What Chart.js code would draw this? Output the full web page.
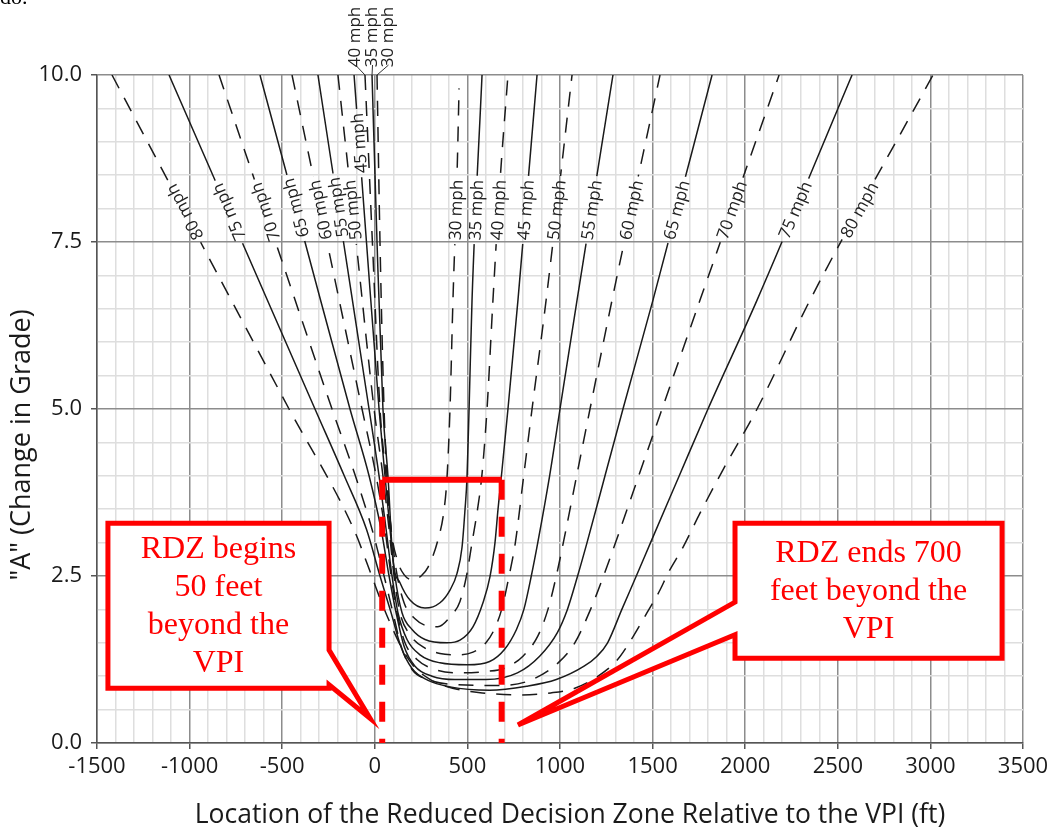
<!DOCTYPE html>
<html>
<head>
<meta charset="utf-8">
<script src="https://cdn.jsdelivr.net/npm/chart.js@4.4.1/dist/chart.umd.min.js"></script>
<style>
  html, body { margin: 0; padding: 0; background: #fff; }
  #wrap { position: relative; width: 1055px; height: 829px; }
</style>
</head>
<body>
<div id="wrap"><canvas id="chart" width="1055" height="829"></canvas></div>
<script>
// speeds, one U-shaped curve each: [location ft, A]
const speeds = [30, 35, 40, 45, 50, 55, 60, 65, 70, 75, 80];

const mph30 = [[12,10],[28,7.5],[50,5],[66,4],[88,3.2],[120,2.75],[158,2.52],[206,2.44],[250,2.5],[287,2.63],[341,3.04],[374,3.49],[390,3.98],[406,5],[422,6.63],[444,8.5],[455,9.8]];
const mph35 = [[-15,10],[12,7.5],[44,5],[71,4],[98,2.74],[136,2.4],[190,2.14],[271,2.02],[352,2.1],[406,2.29],[444,2.54],[471,2.93],[487,3.49],[498,3.98],[509,5],[525,6.63],[579,10]];
const mph40 = [[-53,10],[-13,7.5],[28,5],[61,4],[88,3.2],[115,2.6],[158,2.1],[217,1.86],[287,1.75],[340,1.74],[410,1.9],[460,2.12],[495,2.5],[525,3.0],[552,3.45],[578,4.0],[606,5],[638,6.63],[676,8.4],[719,10]];
const mph45 = [[-112,10],[-45,7.5],[23,5],[55,4],[82,3.2],[109,2.5],[147,1.95],[201,1.7],[271,1.55],[390,1.5],[460,1.54],[530,1.74],[584,2.1],[622,2.49],[649,3.0],[665,3.49],[687,4.09],[719,5],[773,6.63],[876,10]];
const mph50 = [[-199,10],[-101,7.5],[-4,5],[44,4],[77,3.2],[104,2.5],[136,1.95],[190,1.62],[271,1.42],[352,1.34],[450,1.32],[530,1.36],[600,1.5],[645,1.7],[685,2.0],[725,2.5],[759,3.0],[804,4],[849,5],[925,6.63],[1065,10]];
const mph55 = [[-307,10],[-169,7.5],[-31,5],[23,4],[61,3.2],[93,2.5],[125,1.95],[174,1.55],[244,1.32],[352,1.2],[500,1.17],[620,1.22],[700,1.4],[765,1.7],[805,2.0],[845,2.5],[880,3.0],[944,4],[1000,5],[1092,6.63],[1286,10]];
const mph60 = [[-447,10],[-258,7.5],[-69,5],[7,4],[55,3.2],[88,2.5],[120,1.95],[163,1.5],[228,1.25],[325,1.1],[480,1.05],[600,1.07],[700,1.12],[800,1.3],[880,1.6],[935,2.0],[980,2.5],[1018,3.0],[1090,4],[1162,5],[1281,6.63],[1540,10]];
const mph65 = [[-620,10],[-377,7.5],[-134,5],[-31,4],[34,3.2],[77,2.5],[115,1.95],[158,1.45],[217,1.15],[309,1.0],[433,0.95],[600,0.95],[770,1.05],[890,1.3],[985,1.65],[1040,2.0],[1095,2.5],[1146,3.0],[1243,4],[1340,5],[1502,6.63],[1821,10]];
const mph70 = [[-841,10],[-536,7.5],[-231,5],[-105,4],[-15,3.2],[50,2.5],[98,1.95],[142,1.45],[201,1.1],[287,0.95],[406,0.88],[680,0.86],[850,0.95],[990,1.2],[1080,1.5],[1165,2.0],[1235,2.5],[1300,3.0],[1425,4],[1551,5],[1756,6.63],[2183,10]];
const mph75 = [[-1111,10],[-717,7.5],[-323,5],[-165,4],[-45,3.2],[28,2.5],[88,1.95],[140,1.45],[200,1.12],[285,0.94],[406,0.84],[620,0.79],[820,0.85],[980,0.95],[1130,1.15],[1200,1.3],[1257,1.5],[1334,2.0],[1412,2.5],[1489,3.0],[1644,4],[1799,5],[2064,6.63],[2577,10]];
const mph80 = [[-1419,10],[-941,7.5],[-463,5],[-112,3.19],[-30,2.6],[30,2.15],[90,1.75],[150,1.4],[210,1.15],[300,0.95],[420,0.82],[580,0.75],[780,0.72],[950,0.75],[1080,0.82],[1200,0.99],[1308,1.24],[1394,1.59],[1470,1.95],[1540,2.29],[1583,2.54],[1664,2.93],[1756,3.44],[1880,4.09],[2064,5],[2350,6.63],[3014,10]];

const curves = [mph30, mph35, mph40, mph45, mph50, mph55, mph60, mph65, mph70, mph75, mph80];

// reduced decision zone marks
const rdzStart = 40;
const rdzEnd = 685;
const rdzTopA = 3.94;

// where the speed labels sit: [speed, A]
const leftLabels = [[45, 8.98], [50, 7.98], [55, 8.02], [60, 7.98], [65, 8.01], [70, 7.95], [75, 7.95], [80, 7.95]];
const rightLabels = speeds.map(s => [s, 7.98]);
const topLabels = [[40, -11], [35, -1], [30, 10]];  // px shift of label from the line top

const leftCallout = {
  x0: -1441, x1: -247, a0: 3.29, a1: 0.82, tipX: -26, tipA: 0.37, baseA: [1.39, 0.87], side: 'right',
  text: ['RDZ begins', '50 feet', 'beyond the', 'VPI']
};
const rightCallout = {
  x0: 1945, x1: 3387, a0: 3.29, a1: 1.27, tipX: 773, tipA: 0.27, baseA: [2.11, 1.62], side: 'left',
  text: ['RDZ ends 700', 'feet beyond the', 'VPI']
};

const LABEL_FONT = '17px "Open Sans"';

function findOnBranch(data, a, side) {
  let mi = 0;
  data.forEach((p, i) => { if (p[1] < data[mi][1]) mi = i; });
  const seg = side === 'left' ? data.slice(0, mi + 1) : data.slice(mi);
  for (let i = 0; i < seg.length - 1; i++) {
    const p = seg[i], q = seg[i + 1];
    if ((p[1] - a) * (q[1] - a) <= 0 && p[1] !== q[1]) {
      const t = (a - p[1]) / (q[1] - p[1]);
      return { x: p[0] + t * (q[0] - p[0]), lo: p[1] < q[1] ? p : q, hi: p[1] < q[1] ? q : p };
    }
  }
  return null;
}

function labelBoxes(chart) {
  const xs = chart.scales.x, ys = chart.scales.y, ctx = chart.ctx;
  ctx.save();
  ctx.font = LABEL_FONT;
  const out = [];
  const add = (list, side) => list.forEach(([s, a]) => {
    const d = curves[speeds.indexOf(s)];
    const f = findOnBranch(d, a, side);
    if (!f) return;
    const dx = xs.getPixelForValue(f.hi[0]) - xs.getPixelForValue(f.lo[0]);
    const dy = ys.getPixelForValue(f.hi[1]) - ys.getPixelForValue(f.lo[1]);
    const text = s + ' mph';
    out.push({
      cx: xs.getPixelForValue(f.x), cy: ys.getPixelForValue(a),
      ang: Math.atan2(dy, dx), text: text, w: ctx.measureText(text).width + 8, h: 14
    });
  });
  add(leftLabels, 'left');
  add(rightLabels, 'right');
  ctx.restore();
  return out;
}

const labelPlugin = {
  id: 'speedLabels',
  beforeDatasetsDraw(chart) {
    const ctx = chart.ctx;
    chart.$boxes = labelBoxes(chart);
    ctx.save();
    ctx.beginPath();
    ctx.rect(0, 0, chart.width, chart.height);
    chart.$boxes.forEach(b => {
      const c = Math.cos(b.ang), s = Math.sin(b.ang);
      const pts = [[-b.w / 2, -b.h / 2], [b.w / 2, -b.h / 2], [b.w / 2, b.h / 2], [-b.w / 2, b.h / 2]]
        .map(([u, v]) => [b.cx + u * c - v * s, b.cy + u * s + v * c]);
      ctx.moveTo(pts[0][0], pts[0][1]);
      pts.slice(1).forEach(p => ctx.lineTo(p[0], p[1]));
      ctx.closePath();
    });
    ctx.clip('evenodd');
  },
  afterDatasetsDraw(chart) {
    chart.ctx.restore();
  },
  afterDraw(chart) {
    const ctx = chart.ctx, xs = chart.scales.x, ys = chart.scales.y, area = chart.chartArea;
    ctx.save();
    ctx.font = LABEL_FONT;
    ctx.fillStyle = '#222';
    ctx.textAlign = 'center';
    ctx.textBaseline = 'middle';
    (chart.$boxes || []).forEach(b => {
      ctx.save();
      ctx.translate(b.cx, b.cy);
      ctx.rotate(b.ang);
      ctx.fillText(b.text, 0, 1);
      ctx.restore();
    });
    // labels above the plot for the slowest left branches
    ctx.strokeStyle = '#333';
    ctx.lineWidth = 1;
    topLabels.forEach(([s, off]) => {
      const d = curves[speeds.indexOf(s)];
      const lx = xs.getPixelForValue(d[0][0]);
      const ly = ys.getPixelForValue(d[0][1]);
      const tx = lx + off, ty = area.top - 38;
      ctx.save();
      ctx.translate(tx, ty);
      ctx.rotate(-Math.PI / 2);
      ctx.fillText(s + ' mph', 0, 1);
      ctx.restore();
      ctx.beginPath();
      ctx.moveTo(tx + 1.5, area.top - 10);
      ctx.lineTo(lx, ly);
      ctx.stroke();
    });
    ctx.restore();

    drawCallout(chart, leftCallout);
    drawCallout(chart, rightCallout);

    // axis titles
    ctx.save();
    ctx.fillStyle = '#1a1a1a';
    ctx.textAlign = 'center';
    ctx.textBaseline = 'middle';
    ctx.font = '26.5px "Open Sans"';
    ctx.fillText('Location of the Reduced Decision Zone Relative to the VPI (ft)', (area.left + area.right) / 2 + 10, area.bottom + 72);
    ctx.translate(22, (area.top + area.bottom) / 2 + 36);
    ctx.rotate(-Math.PI / 2);
    ctx.font = '27px "Open Sans"';
    ctx.fillText('"A" (Change in Grade)', 0, 0);
    ctx.restore();

    // remnant of the surrounding page text
    ctx.save();
    ctx.fillStyle = '#000';
    ctx.font = '22px "Liberation Serif"';
    ctx.textBaseline = 'alphabetic';
    ctx.fillText('do.', 0, 4);
    ctx.restore();
  }
};

function drawCallout(chart, c) {
  const ctx = chart.ctx, xs = chart.scales.x, ys = chart.scales.y;
  const X = v => xs.getPixelForValue(v), Y = v => ys.getPixelForValue(v);
  const x0 = X(c.x0), x1 = X(c.x1), y0 = Y(c.a0), y1 = Y(c.a1);
  const tip = [X(c.tipX), Y(c.tipA)];
  const b0 = Y(c.baseA[0]), b1 = Y(c.baseA[1]);
  let pts;
  if (c.side === 'right') {
    pts = [[x0, y0], [x1, y0], [x1, b0], tip, [x1, b1], [x1, y1], [x0, y1]];
  } else {
    pts = [[x0, y0], [x1, y0], [x1, y1], [x0, y1], [x0, b1], tip, [x0, b0]];
  }
  ctx.save();
  ctx.beginPath();
  ctx.moveTo(pts[0][0], pts[0][1]);
  pts.slice(1).forEach(p => ctx.lineTo(p[0], p[1]));
  ctx.closePath();
  ctx.fillStyle = '#fff';
  ctx.fill();
  ctx.lineWidth = 5;
  ctx.lineJoin = 'miter';
  ctx.strokeStyle = '#ff0000';
  ctx.stroke();
  ctx.fillStyle = '#ff0000';
  ctx.font = '32px "Liberation Serif"';
  ctx.textAlign = 'center';
  ctx.textBaseline = 'middle';
  const lh = 38;
  const cy = (y0 + y1) / 2 - (c.text.length - 1) * lh / 2;
  c.text.forEach((t, i) => ctx.fillText(t, (x0 + x1) / 2, cy + i * lh + 1));
  ctx.restore();
}

const datasets = curves.map((d, i) => ({
  label: speeds[i] + ' mph',
  data: d.map(p => ({ x: p[0], y: p[1] })),
  borderColor: '#1a1a1a',
  borderWidth: 1.5,
  borderDash: i % 2 === 0 ? [15, 11] : [],
  pointRadius: 0,
  showLine: true,
  fill: false,
  cubicInterpolationMode: 'monotone',
  order: 2
}));

datasets.push({
  data: [{ x: rdzStart, y: rdzTopA }, { x: rdzStart, y: 0 }],
  borderColor: '#ff0000', borderWidth: 6, borderDash: [20, 17], pointRadius: 0, showLine: true, tension: 0, order: 1
});
datasets.push({
  data: [{ x: rdzEnd, y: rdzTopA }, { x: rdzEnd, y: 0 }],
  borderColor: '#ff0000', borderWidth: 6, borderDash: [20, 17], pointRadius: 0, showLine: true, tension: 0, order: 1
});
datasets.push({
  data: [{ x: rdzStart, y: rdzTopA }, { x: rdzEnd, y: rdzTopA }],
  borderColor: '#ff0000', borderWidth: 6, pointRadius: 0, showLine: true, tension: 0, order: 1
});

const isMajorX = v => v % 500 === 0;
const isMajorY = v => v % 2.5 === 0;

function make() {
  new Chart(document.getElementById('chart'), {
    type: 'scatter',
    data: { datasets: datasets },
    plugins: [labelPlugin],
    options: {
      responsive: false,
      animation: false,
      devicePixelRatio: 1,
      layout: { padding: { top: 75, right: 32, left: 0, bottom: 0 } },
      plugins: { legend: { display: false }, tooltip: { enabled: false } },
      scales: {
        x: {
          type: 'linear', min: -1500, max: 3500,
          ticks: {
            stepSize: 100, maxTicksLimit: 100, autoSkip: false, maxRotation: 0, minRotation: 0,
            padding: 5, color: '#1a1a1a', font: { family: 'Open Sans', size: 22 },
            callback: v => isMajorX(v) ? String(v) : ''
          },
          grid: {
            color: c => isMajorX(c.tick.value) ? '#8c8c8c' : '#dedede',
            lineWidth: 1.5,
            tickLength: 6,
            tickColor: c => isMajorX(c.tick.value) ? '#555' : 'rgba(0,0,0,0)'
          },
          border: { color: '#555', width: 1.5 },
          afterFit: s => { s.height = 86; }
        },
        y: {
          type: 'linear', min: 0, max: 10,
          ticks: {
            stepSize: 0.5, maxTicksLimit: 100, autoSkip: false,
            padding: 9, color: '#1a1a1a', font: { family: 'Open Sans', size: 22 },
            callback: v => isMajorY(v) ? v.toFixed(1) : ''
          },
          grid: {
            color: c => isMajorY(c.tick.value) ? '#8c8c8c' : '#dedede',
            lineWidth: 1.5,
            tickLength: 6,
            tickColor: c => isMajorY(c.tick.value) ? '#555' : 'rgba(0,0,0,0)'
          },
          border: { color: '#555', width: 1.5 },
          afterFit: s => { s.width = 97; }
        }
      }
    }
  });
}

Promise.all([
  document.fonts.load('22px "Open Sans"'),
  document.fonts.load('32px "Liberation Serif"')
]).then(make, make);
</script>
</body>
</html>
